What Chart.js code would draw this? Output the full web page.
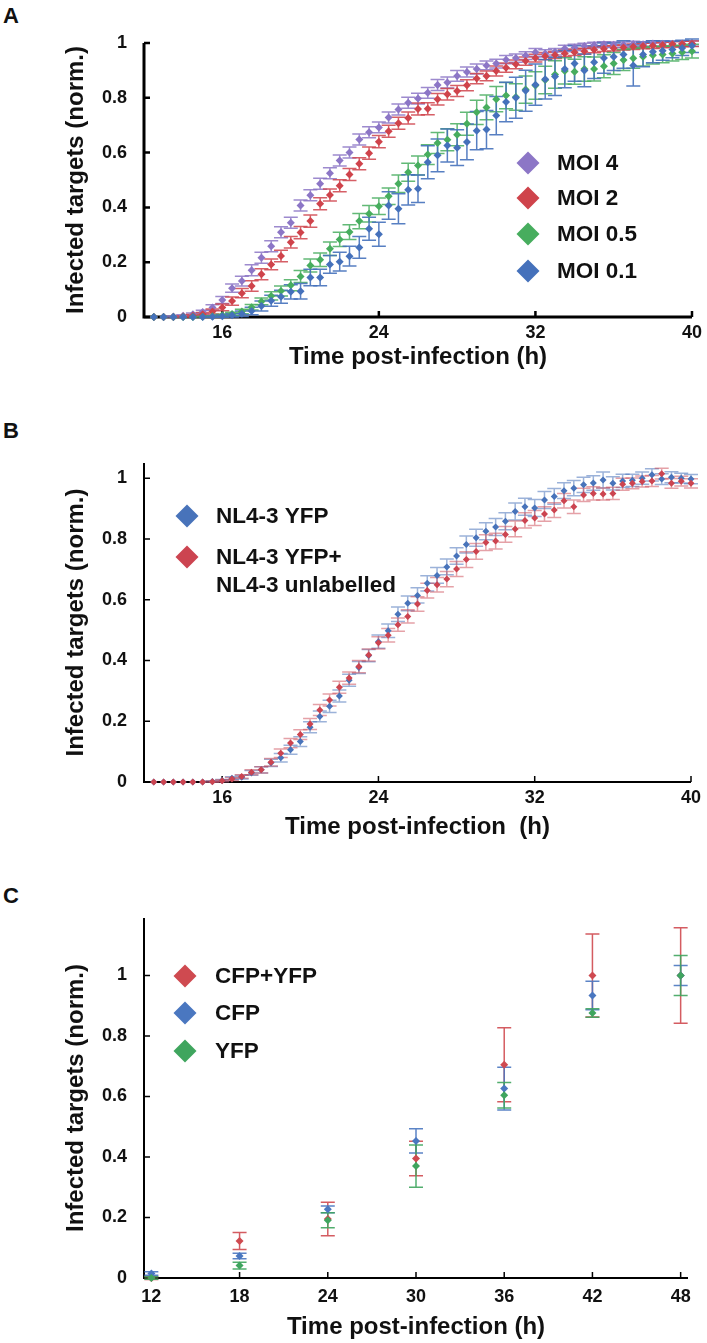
<!DOCTYPE html>
<html>
<head>
<meta charset="utf-8">
<title>Infection kinetics</title>
<script src="https://cdn.jsdelivr.net/npm/chart.js@4.4.1/dist/chart.umd.min.js"></script>
<style>
  html, body { margin: 0; padding: 0; background: #fff; }
  #page { position: relative; width: 707px; height: 1343px; overflow: hidden; }
  .panel { position: absolute; left: 0; width: 707px; }
  .letter { position: absolute; left: 3px; font: bold 22px 'Liberation Sans', Arial, sans-serif; line-height: 1; color: #111; }
</style>
</head>
<body>
<div id="page">
  <div class="letter" style="top:5px">A</div>
  <div class="letter" style="top:420px">B</div>
  <div class="letter" style="top:885px">C</div>
  <div class="panel" style="top:0"><canvas id="chartA" width="707" height="400"></canvas></div>
  <div class="panel" style="top:400px"><canvas id="chartB" width="707" height="450"></canvas></div>
  <div class="panel" style="top:850px"><canvas id="chartC" width="707" height="493"></canvas></div>
</div>
<script>
// ---- data ----

// panels A and B: one reading every 30 min
const timeAB = [
  12.5, 13, 13.5, 14, 14.5, 15, 15.5, 16,
  16.5, 17, 17.5, 18, 18.5, 19, 19.5, 20,
  20.5, 21, 21.5, 22, 22.5, 23, 23.5, 24,
  24.5, 25, 25.5, 26, 26.5, 27, 27.5, 28,
  28.5, 29, 29.5, 30, 30.5, 31, 31.5, 32,
  32.5, 33, 33.5, 34, 34.5, 35, 35.5, 36,
  36.5, 37, 37.5, 38, 38.5, 39, 39.5, 40
];

// Panel A
const labelsA = ['MOI 4', 'MOI 2', 'MOI 0.5', 'MOI 0.1'];
const moi4 = [
  0, 0, 0.002, 0.005, 0.010, 0.018, 0.035, 0.062,
  0.105, 0.131, 0.171, 0.216, 0.258, 0.309, 0.344, 0.407,
  0.444, 0.486, 0.525, 0.571, 0.600, 0.648, 0.674, 0.692,
  0.728, 0.757, 0.782, 0.797, 0.818, 0.847, 0.856, 0.880,
  0.894, 0.905, 0.918, 0.925, 0.939, 0.945, 0.954, 0.966,
  0.962, 0.968, 0.980, 0.984, 0.989, 0.993, 0.995, 0.994,
  0.994, 0.996, 0.995, 0.998, 0.997, 0.997, 0.998, 0.998
];
const moi4Err = [
  0, 0, 0.002, 0.003, 0.005, 0.007, 0.010, 0.013,
  0.015, 0.018, 0.020, 0.020, 0.020, 0.020, 0.020, 0.020,
  0.020, 0.020, 0.020, 0.020, 0.020, 0.020, 0.020, 0.020,
  0.020, 0.020, 0.020, 0.020, 0.020, 0.020, 0.020, 0.020,
  0.018, 0.018, 0.016, 0.016, 0.015, 0.015, 0.014, 0.014,
  0.013, 0.012, 0.012, 0.011, 0.010, 0.010, 0.010, 0.010,
  0.010, 0.010, 0.010, 0.010, 0.010, 0.010, 0.010, 0.010
];
const moi2 = [
  0, 0, 0, 0.002, 0.005, 0.010, 0.020, 0.035,
  0.058, 0.087, 0.113, 0.156, 0.192, 0.223, 0.273, 0.308,
  0.350, 0.413, 0.445, 0.479, 0.520, 0.559, 0.598, 0.640,
  0.678, 0.707, 0.726, 0.759, 0.760, 0.795, 0.813, 0.825,
  0.846, 0.870, 0.880, 0.898, 0.910, 0.922, 0.934, 0.945,
  0.952, 0.956, 0.962, 0.966, 0.970, 0.975, 0.979, 0.981,
  0.984, 0.986, 0.989, 0.990, 0.993, 0.995, 0.996, 0.997
];
const moi2Err = [
  0, 0, 0, 0.002, 0.004, 0.006, 0.009, 0.012,
  0.015, 0.017, 0.019, 0.020, 0.020, 0.021, 0.021, 0.022,
  0.022, 0.022, 0.022, 0.022, 0.022, 0.022, 0.022, 0.022,
  0.022, 0.022, 0.022, 0.022, 0.022, 0.021, 0.021, 0.020,
  0.020, 0.019, 0.018, 0.018, 0.017, 0.016, 0.015, 0.014,
  0.013, 0.013, 0.012, 0.012, 0.011, 0.011, 0.010, 0.010,
  0.010, 0.010, 0.010, 0.010, 0.010, 0.010, 0.010, 0.010
];
const moi05 = [
  0, 0, 0, 0, 0, 0.001, 0.003, 0.006,
  0.011, 0.020, 0.036, 0.057, 0.077, 0.095, 0.116, 0.148,
  0.188, 0.209, 0.249, 0.283, 0.310, 0.350, 0.377, 0.404,
  0.441, 0.486, 0.528, 0.553, 0.593, 0.635, 0.647, 0.665,
  0.705, 0.747, 0.765, 0.795, 0.808, 0.803, 0.830, 0.845,
  0.865, 0.885, 0.898, 0.895, 0.905, 0.905, 0.915, 0.925,
  0.938, 0.944, 0.950, 0.955, 0.958, 0.962, 0.966, 0.970
];
const moi05Err = [
  0, 0, 0, 0, 0, 0.001, 0.002, 0.004,
  0.006, 0.008, 0.010, 0.012, 0.015, 0.018, 0.020, 0.022,
  0.024, 0.025, 0.025, 0.026, 0.027, 0.028, 0.030, 0.030,
  0.030, 0.032, 0.033, 0.035, 0.036, 0.038, 0.040, 0.040,
  0.042, 0.044, 0.045, 0.046, 0.048, 0.048, 0.050, 0.050,
  0.050, 0.050, 0.048, 0.046, 0.045, 0.044, 0.042, 0.040,
  0.038, 0.036, 0.034, 0.032, 0.030, 0.028, 0.026, 0.025
];
const moi01 = [
  0, 0, 0, 0, 0, 0, 0.001, 0.003,
  0.006, 0.012, 0.022, 0.040, 0.059, 0.074, 0.092, 0.094,
  0.144, 0.144, 0.192, 0.202, 0.222, 0.254, 0.322, 0.302,
  0.407, 0.395, 0.464, 0.468, 0.565, 0.590, 0.626, 0.618,
  0.639, 0.680, 0.684, 0.735, 0.785, 0.800, 0.826, 0.848,
  0.868, 0.878, 0.905, 0.925, 0.900, 0.930, 0.945, 0.950,
  0.958, 0.918, 0.958, 0.968, 0.972, 0.976, 0.982, 0.990
];
const moi01Err = [
  0, 0, 0, 0, 0, 0, 0.002, 0.004,
  0.006, 0.010, 0.014, 0.018, 0.020, 0.024, 0.026, 0.028,
  0.030, 0.030, 0.032, 0.034, 0.036, 0.040, 0.042, 0.044,
  0.050, 0.055, 0.055, 0.050, 0.060, 0.060, 0.060, 0.065,
  0.065, 0.070, 0.070, 0.070, 0.072, 0.075, 0.075, 0.075,
  0.072, 0.070, 0.068, 0.065, 0.060, 0.060, 0.055, 0.050,
  0.050, 0.075, 0.045, 0.040, 0.035, 0.030, 0.028, 0.025
];

// Panel B
const labelsB = [['NL4-3 YFP'], ['NL4-3 YFP+', 'NL4-3 unlabelled']];
const yfpOnly = [
  0, 0, 0, 0, 0, 0, 0.002, 0.005,
  0.012, 0.016, 0.030, 0.040, 0.063, 0.080, 0.106, 0.133,
  0.180, 0.216, 0.249, 0.283, 0.335, 0.377, 0.416, 0.462,
  0.498, 0.552, 0.588, 0.614, 0.654, 0.680, 0.708, 0.744,
  0.782, 0.804, 0.825, 0.839, 0.858, 0.890, 0.906, 0.902,
  0.928, 0.940, 0.959, 0.967, 0.978, 0.984, 0.994, 0.983,
  0.991, 0.993, 1.000, 1.011, 0.997, 1.003, 1.000, 0.997
];
const yfpOnlyErr = [
  0, 0, 0, 0, 0, 0, 0.002, 0.003,
  0.005, 0.006, 0.008, 0.010, 0.012, 0.014, 0.015, 0.016,
  0.018, 0.018, 0.020, 0.020, 0.020, 0.020, 0.020, 0.022,
  0.022, 0.024, 0.024, 0.025, 0.025, 0.026, 0.026, 0.027,
  0.028, 0.028, 0.028, 0.028, 0.028, 0.028, 0.028, 0.028,
  0.028, 0.026, 0.026, 0.025, 0.025, 0.024, 0.026, 0.022,
  0.022, 0.020, 0.020, 0.020, 0.018, 0.018, 0.016, 0.015
];
const yfpMix = [
  0, 0, 0, 0, 0, 0, 0.001, 0.004,
  0.010, 0.018, 0.032, 0.040, 0.065, 0.095, 0.128, 0.156,
  0.191, 0.237, 0.270, 0.312, 0.342, 0.380, 0.418, 0.458,
  0.483, 0.518, 0.545, 0.586, 0.630, 0.649, 0.668, 0.701,
  0.732, 0.759, 0.788, 0.793, 0.815, 0.833, 0.861, 0.869,
  0.882, 0.895, 0.926, 0.906, 0.945, 0.950, 0.948, 0.950,
  0.980, 0.983, 0.989, 0.991, 1.015, 0.983, 0.990, 0.983
];
const yfpMixErr = [
  0, 0, 0, 0, 0, 0, 0.002, 0.003,
  0.005, 0.006, 0.008, 0.010, 0.012, 0.014, 0.015, 0.016,
  0.018, 0.018, 0.020, 0.020, 0.020, 0.020, 0.020, 0.020,
  0.022, 0.022, 0.022, 0.024, 0.024, 0.024, 0.025, 0.025,
  0.026, 0.026, 0.026, 0.026, 0.026, 0.026, 0.025, 0.025,
  0.024, 0.024, 0.024, 0.022, 0.022, 0.022, 0.020, 0.020,
  0.020, 0.018, 0.018, 0.018, 0.018, 0.016, 0.016, 0.015
];

// Panel C: sampled every 6 h
const timeC = [12, 18, 24, 30, 36, 42, 48];
const labelsC = ['CFP+YFP', 'CFP', 'YFP'];
const cfpYfp    = [0, 0.122, 0.195, 0.395, 0.705, 1.000, 1.000];
const cfpYfpErr = [0.005, 0.028, 0.055, 0.057, 0.122, 0.137, 0.158];
const cfp       = [0.015, 0.073, 0.227, 0.453, 0.626, 0.934, 1.000];
const cfpErr    = [0.006, 0.009, 0.011, 0.040, 0.071, 0.047, 0.033];
const yfp       = [0, 0.041, 0.191, 0.370, 0.604, 0.876, 1.000];
const yfpErr    = [0.004, 0.011, 0.025, 0.070, 0.042, 0.014, 0.066];

// axis ticks
const xTicksAB = [16, 24, 32, 40];
const xTicksC = [12, 18, 24, 30, 36, 42, 48];
const yTicks = [0, 0.2, 0.4, 0.6, 0.8, 1];
const yTickLabels = ['0', '0.2', '0.4', '0.6', '0.8', '1'];

// ---- plugins ----
const FONT = "'Liberation Sans', Arial, Helvetica, sans-serif";

// axis lines with short inward tick marks
const boxAxes = {
    id: 'boxAxes',
    beforeDatasetsDraw(chart, args, opts) {
        const {ctx, chartArea: a, scales: {x, y}} = chart;
        ctx.save();
        ctx.strokeStyle = '#000';
        ctx.lineWidth = opts.width;
        ctx.lineCap = 'butt';
        ctx.beginPath();
        ctx.moveTo(a.left, a.top);
        ctx.lineTo(a.left, a.bottom);
        ctx.moveTo(a.left - opts.width / 2, a.bottom);
        ctx.lineTo(a.right, a.bottom);
        ctx.stroke();
        ctx.lineWidth = opts.tickWidth;
        ctx.beginPath();
        y.ticks.forEach(t => {
            const py = y.getPixelForValue(t.value);
            ctx.moveTo(a.left, py);
            ctx.lineTo(a.left + opts.tick, py);
        });
        x.ticks.forEach(t => {
            const px = x.getPixelForValue(t.value);
            ctx.moveTo(px, a.bottom);
            ctx.lineTo(px, a.bottom - opts.tick);
        });
        ctx.stroke();
        ctx.restore();
    }
};

// vertical error bars with caps
const errorBars = {
    id: 'errorBars',
    beforeDatasetsDraw(chart, args, opts) {
        const {ctx, scales: {x, y}} = chart;
        ctx.save();
        ctx.lineWidth = opts.lineWidth;
        chart.data.datasets.forEach(ds => {
            if (!ds.errors) return;
            ctx.strokeStyle = ds.errorColor;
            ds.data.forEach((pt, j) => {
                const e = ds.errors[j];
                if (!e) return;
                const px = x.getPixelForValue(pt.x);
                const top = y.getPixelForValue(pt.y + e);
                const bot = y.getPixelForValue(pt.y - e);
                ctx.beginPath();
                ctx.moveTo(px, top);
                ctx.lineTo(px, bot);
                ctx.moveTo(px - opts.cap, top);
                ctx.lineTo(px + opts.cap, top);
                ctx.moveTo(px - opts.cap, bot);
                ctx.lineTo(px + opts.cap, bot);
                ctx.stroke();
            });
        });
        ctx.restore();
    }
};

// legend drawn inside the plot, big diamonds
const diamondLegend = {
    id: 'diamondLegend',
    afterDraw(chart, args, opts) {
        const ctx = chart.ctx;
        ctx.save();
        ctx.font = 'bold ' + opts.fontSize + 'px ' + FONT;
        ctx.textBaseline = 'middle';
        ctx.textAlign = 'left';
        chart.data.datasets.forEach((ds, i) => {
            const cy = opts.rows[i];
            const r = opts.size;
            ctx.fillStyle = ds.backgroundColor;
            ctx.beginPath();
            ctx.moveTo(opts.x - r, cy);
            ctx.lineTo(opts.x, cy - r);
            ctx.lineTo(opts.x + r, cy);
            ctx.lineTo(opts.x, cy + r);
            ctx.closePath();
            ctx.fill();
            ctx.fillStyle = '#111';
            const lines = Array.isArray(ds.label) ? ds.label : [ds.label];
            lines.forEach((line, k) => {
                ctx.fillText(line, opts.textX, cy + 1 + k * opts.lineGap);
            });
        });
        ctx.restore();
    }
};

// ---- helpers ----
function series(times, values, errors, label, color, errColor, radius, order) {
    return {
        label: label,
        data: times.map((t, i) => ({x: t, y: values[i]})),
        errors: errors,
        errorColor: errColor,
        backgroundColor: color,
        borderWidth: 0,
        pointStyle: 'rectRot',
        pointRadius: radius,
        pointHoverRadius: radius,
        clip: false,
        order: order
    };
}

function makeChart(id, cfg) {
    const tickFont = {family: FONT, size: 18, weight: 'bold'};
    const titleFont = {family: FONT, size: 24, weight: 'bold'};
    return new Chart(document.getElementById(id), {
        type: 'scatter',
        data: {datasets: cfg.datasets},
        options: {
            responsive: false,
            animation: false,
            events: [],
            layout: {padding: {top: cfg.top, right: cfg.right, left: 0, bottom: 0}},
            plugins: {
                legend: {display: false},
                tooltip: {enabled: false},
                boxAxes: {width: cfg.axisWidth, tickWidth: cfg.axisWidth - 0.5, tick: 6},
                errorBars: {lineWidth: 1.5, cap: 7},
                diamondLegend: cfg.legend
            },
            scales: {
                x: {
                    type: 'linear',
                    min: cfg.xMin,
                    max: cfg.xMax,
                    afterFit: s => { s.height = cfg.xHeight; },
                    afterBuildTicks: s => { s.ticks = cfg.xTicks.map(v => ({value: v})); },
                    grid: {display: false, drawTicks: false},
                    border: {display: false},
                    ticks: {font: tickFont, color: '#111', padding: cfg.xTickPad, autoSkip: false, maxRotation: 0},
                    title: {display: true, text: cfg.xTitle, font: titleFont, color: '#111', padding: {top: 0, bottom: cfg.xTitlePad}}
                },
                y: {
                    type: 'linear',
                    min: 0,
                    max: cfg.yMax,
                    afterFit: s => { s.width = 144; },
                    afterBuildTicks: s => { s.ticks = yTicks.map(v => ({value: v})); },
                    grid: {display: false, drawTicks: false},
                    border: {display: false},
                    ticks: {font: tickFont, color: '#111', padding: 17, callback: (v, i) => yTickLabels[i]},
                    title: {display: true, text: 'Infected targets (norm.)', font: titleFont, color: '#111', padding: {top: 62, bottom: 0}}
                }
            }
        },
        plugins: [boxAxes, errorBars, diamondLegend]
    });
}

// ---- panel A ----
makeChart('chartA', {
    datasets: [
        series(timeAB, moi4, moi4Err, labelsA[0], '#8c76c6', 'rgba(140,118,198,0.85)', 4, 4),
        series(timeAB, moi2, moi2Err, labelsA[1], '#cf434b', 'rgba(207,67,75,0.85)', 4, 3),
        series(timeAB, moi05, moi05Err, labelsA[2], '#47ad5e', 'rgba(71,173,94,0.85)', 4, 2),
        series(timeAB, moi01, moi01Err, labelsA[3], '#4571bb', 'rgba(69,113,187,0.9)', 4, 1)
    ],
    top: 43, right: 14, xMin: 12, xMax: 40, yMax: 1,
    xHeight: 83, xTickPad: 5, xTitlePad: 28, axisWidth: 3,
    xTicks: xTicksAB,
    xTitle: 'Time post-infection (h)',
    legend: {x: 528, textX: 557, rows: [163, 198, 234, 271], size: 11.5, fontSize: 22.5, lineGap: 28}
});

// ---- panel B ----
makeChart('chartB', {
    datasets: [
        series(timeAB, yfpOnly, yfpOnlyErr, labelsB[0], '#4873ba', 'rgba(72,115,186,0.55)', 3.5, 2),
        series(timeAB, yfpMix, yfpMixErr, labelsB[1], '#cc4450', 'rgba(204,68,80,0.5)', 3.5, 1)
    ],
    top: 63, right: 16, xMin: 12, xMax: 40, yMax: 1.05,
    xHeight: 68, xTickPad: 5, xTitlePad: 8, axisWidth: 2,
    xTicks: xTicksAB,
    xTitle: 'Time post-infection  (h)',
    legend: {x: 187, textX: 216, rows: [116, 157], size: 11.5, fontSize: 22.5, lineGap: 28}
});

// ---- panel C ----
makeChart('chartC', {
    datasets: [
        series(timeC, cfpYfp, cfpYfpErr, labelsC[0], '#cf4a50', 'rgba(207,74,80,0.9)', 4, 3),
        series(timeC, cfp, cfpErr, labelsC[1], '#4a77c0', 'rgba(74,119,192,0.9)', 4, 2),
        series(timeC, yfp, yfpErr, labelsC[2], '#3fa55e', 'rgba(63,165,94,0.9)', 4, 1)
    ],
    top: 68, right: 19, xMin: 11.5, xMax: 48.5, yMax: 1.19,
    xHeight: 65, xTickPad: 8, xTitlePad: 1, axisWidth: 2,
    xTicks: xTicksC,
    xTitle: 'Time post-infection (h)',
    legend: {x: 185, textX: 215, rows: [126, 163, 201], size: 11.5, fontSize: 22.5, lineGap: 28}
});
</script>
</body>
</html>
